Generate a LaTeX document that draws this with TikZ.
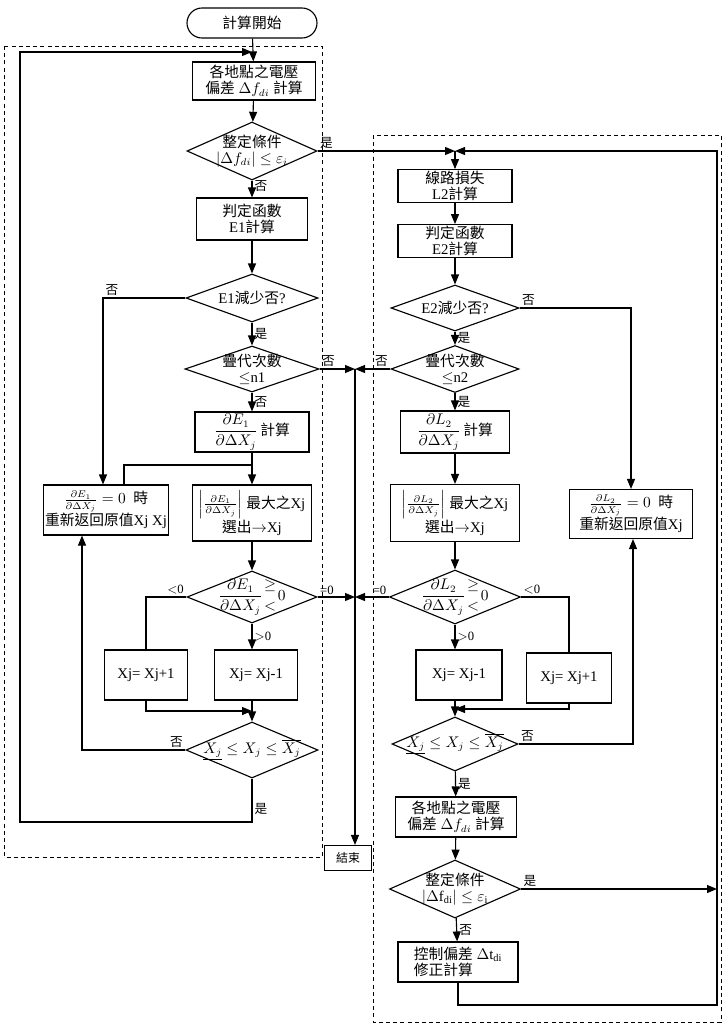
\documentclass[tikz,border=0pt]{standalone}
\usepackage{amsmath}
\usepackage{fontspec}
\setmainfont{Liberation Serif}
\newfontfamily\cjk{Noto Sans CJK TC}
\newcommand{\zh}[1]{{\cjk #1}}
\usetikzlibrary{positioning,shapes.geometric,arrows.meta}

\begin{document}
\begin{tikzpicture}[x=0.25mm,y=-0.25mm,
    font=\fontsize{10.5}{11.5}\selectfont,
    line width=0.8pt,
    >={Triangle[length=2.5mm,width=2mm]},
    proc/.style={draw,rectangle,align=center,inner sep=1pt},
    decide/.style={draw,diamond,inner sep=0pt},
    every label/.style={align=center,inner sep=0pt},
    yn/.style={font=\fontsize{9}{10}\selectfont,inner sep=1.5pt},
    frame/.style={draw,line width=0.6pt,dash pattern=on 1mm off 0.8mm}]
    \useasboundingbox (0,0) rectangle (724,1029);

    % frames
    \draw[frame] (4,46) rectangle (322,857);
    \draw[frame] (373,135) rectangle (721,1022);

    % left column
    \node[proc,rounded corners=3.75mm,minimum width=32.5mm,minimum height=7.5mm] (start) at (252,23) {\zh{計算開始}};
    \node[proc,minimum width=30.75mm,minimum height=9.5mm] (l1) at (254,81) {\zh{各地點之電壓}\\\zh{偏差} $\Delta f_{di}$ \zh{計算}};
    \node[decide,minimum width=32.5mm,minimum height=14.5mm,
        label={center:{\zh{整定條件}\\$|\Delta f_{di}|\le\varepsilon_i$}}] (lc1) at (252,151) {};
    \node[proc,minimum width=27.75mm,minimum height=10.5mm] (l2) at (252,219) {\zh{判定函數}\\E1\zh{計算}};
    \node[decide,minimum width=33mm,minimum height=12mm,label={center:{E1\zh{減少否}?}}] (lc2) at (252,298) {};
    \node[decide,minimum width=33.5mm,minimum height=11.5mm,label={center:{\zh{疊代次數}\\$\le$n1}}] (lc3) at (252,369) {};
    \node[proc,minimum width=28.5mm,minimum height=10mm] (l3) at (252,432) {$\displaystyle\frac{\partial E_1}{\partial\Delta X_j}$\,\zh{計算}};
    \node[proc,minimum width=29.75mm,minimum height=14mm] (l4) at (252,513) {$\left|\frac{\partial E_1}{\partial\Delta X_j}\right|$ \zh{最大之}Xj\\\zh{選出}$\rightarrow$Xj};
    \node[proc,minimum width=30.5mm,minimum height=12.5mm] (l5) at (106,510) {$\frac{\partial E_1}{\partial\Delta X_j}=0$ \ \zh{時}\\\zh{重新返回原值}Xj Xj};
    \node[decide,minimum width=32.5mm,minimum height=13mm,
        label={center:{$\displaystyle\frac{\partial E_1}{\partial\Delta X_j}\genfrac{}{}{0pt}{}{\ge}{<}0$}}] (lc4) at (252,597) {};
    \node[proc,minimum width=20.75mm,minimum height=12.5mm] (l6) at (146,675) {Xj= Xj+1};
    \node[proc,minimum width=20.75mm,minimum height=12.5mm] (l7) at (256,675) {Xj= Xj-1};
    \node[decide,minimum width=33mm,minimum height=14mm,
        label={center:{$\underline{X_j}\le X_j\le\overline{X_j}$}}] (lc5) at (252,750) {};
    \node[proc,font=\fontsize{8.5}{9}\selectfont,minimum width=11.75mm,minimum height=6.25mm] (end) at (348,858) {\zh{結束}};

    % right column
    \node[proc,minimum width=28.5mm,minimum height=7.75mm] (r1) at (455,186) {\zh{線路損失}\\L2\zh{計算}};
    \node[proc,minimum width=28.5mm,minimum height=7.75mm] (r2) at (455,241) {\zh{判定函數}\\E2\zh{計算}};
    \node[decide,minimum width=32mm,minimum height=11.5mm,label={center:{E2\zh{減少否}?}}] (rc1) at (455,308) {};
    \node[decide,minimum width=32mm,minimum height=11.75mm,label={center:{\zh{疊代次數}\\$\le$n2}}] (rc2) at (455,369) {};
    \node[proc,minimum width=27.25mm,minimum height=10.5mm] (r3) at (455,432) {$\displaystyle\frac{\partial L_2}{\partial\Delta X_j}$\,\zh{計算}};
    \node[proc,minimum width=32.25mm,minimum height=14.25mm] (r4) at (455,513) {$\left|\frac{\partial L_2}{\partial\Delta X_j}\right|$ \zh{最大之}Xj\\\zh{選出}$\rightarrow$Xj};
    \node[proc,minimum width=30.75mm,minimum height=12.25mm] (r5) at (631,514) {$\frac{\partial L_2}{\partial\Delta X_j}=0$ \ \zh{時}\\\zh{重新返回原值}Xj};
    \node[decide,minimum width=32.75mm,minimum height=13.5mm,
        label={center:{$\displaystyle\frac{\partial L_2}{\partial\Delta X_j}\genfrac{}{}{0pt}{}{\ge}{<}0$}}] (rc3) at (455,597) {};
    \node[proc,minimum width=21.5mm,minimum height=12.5mm] (r6) at (459,675) {Xj= Xj-1};
    \node[proc,minimum width=21.25mm,minimum height=12.5mm] (r7) at (569,678) {Xj= Xj+1};
    \node[decide,minimum width=31.5mm,minimum height=13.5mm,
        label={center:{$\underline{X_j}\le X_j\le\overline{X_j}$}}] (rc4) at (455,744) {};
    \node[proc,minimum width=30.25mm,minimum height=10mm] (r8) at (456,817) {\zh{各地點之電壓}\\\zh{偏差} $\Delta f_{di}$ \zh{計算}};
    \node[decide,minimum width=32.75mm,minimum height=14.5mm,
        label={center:{\zh{整定條件}\\$|\Delta\mathrm{f}_{\mathrm{di}}|\le\varepsilon_{\mathrm{i}}$}}] (rc5) at (455,889) {};
    \node[proc,align=left,minimum width=30mm,minimum height=10mm] (r9) at (458,962) {\zh{控制偏差} $\Delta\mathrm{t}_{\mathrm{di}}$\\\zh{修正計算}};

    % junctions
    \coordinate (jl) at (252,52);
    \coordinate (jr) at (455,151);
    \coordinate (jm) at (355,369);
    \coordinate (jz) at (355,597);
    \coordinate (lt) at (124,465);
    \coordinate (lw) at (103,298);
    \coordinate (lu) at (82,750);
    \coordinate (jb) at (252,711);
    \coordinate (lb) at (20,822);
    \coordinate (jb2) at (455,709);
    \coordinate (ru) at (633,744);
    \coordinate (rb) at (717,1005);

    % left flow
    \draw[->] (start) -- (l1);
    \draw[->] (l1) -- (lc1);
    \draw[->] (lc1) -- node[yn,right,pos=0.35] (n1) {\zh{否}} (l2);
    \draw[->] (lc1.east) -- node[yn,above right,pos=0] (y1) {\zh{是}} (jr);
    \draw[->] (l2) -- (lc2);
    \draw[->] (lc2) -- node[yn,right] (y2) {\zh{是}} (lc3);
    \draw[->] (lc2.west) -- node[yn,above right,pos=1] (n2) {\zh{否}} (lw) -- (lw |- l5.north);
    \draw[->] (lc3) -- node[yn,right] (n3) {\zh{否}} (l3);
    \draw[->] (lc3.east) -- node[yn,above right,pos=0] (n4) {\zh{否}} (jm);
    \draw[->] (jm) -- (jm |- end.north);
    \draw[->] (l3) -- (l4);
    \draw (lt |- l5.north) -- (lt) -- (lt -| l4);
    \draw[->] (l4) -- (lc4);
    \draw (lc4.west) -- node[yn,above left,pos=0] (m1) {$<$0} (lc4.west -| l6) -- (l6);
    \draw[->] (lc4) -- node[yn,right] (m2) {$>$0} (lc4 |- l7.north);
    \draw[->] (lc4.east) -- node[yn,above right,pos=0] (m3) {=0} (jz);
    \draw[->] (l6) -- (l6 |- jb) -- (jb);
    \draw[->] (l7.south -| lc5) -- (lc5);
    \draw[->] (lc5.west) -- node[yn,above left,pos=0] (n5) {\zh{否}} (lu) -- (lu |- l5.south);
    \draw[->] (lc5) -- node[yn,right,pos=0.7] (y5) {\zh{是}} (lc5 |- lb) -- (lb) -- (lb |- jl) -- (jl);

    % right flow
    \draw[->] (jr) -- (r1);
    \draw[->] (r1) -- (r2);
    \draw[->] (r2) -- (rc1);
    \draw[->] (rc1.east) -- node[yn,above right,pos=0] (n6) {\zh{否}} (rc1.east -| r5) -- (r5);
    \draw[->] (rc1) -- node[yn,right] (y6) {\zh{是}} (rc2);
    \draw[->] (rc2.west) -- node[yn,above left,pos=0] (n7) {\zh{否}} (jm);
    \draw[->] (rc2) -- node[yn,right] (y7) {\zh{是}} (r3);
    \draw[->] (r3) -- (r4);
    \draw[->] (r4) -- (rc3);
    \draw[->] (rc3.west) -- node[yn,above left,pos=0] (m4) {=0} (jz);
    \draw (rc3.east) -- node[yn,above right,pos=0] (m5) {$<$0} (rc3.east -| r7) -- (r7);
    \draw[->] (rc3) -- node[yn,right] (m6) {$>$0} (rc3 |- r6.north);
    \draw[->] (r6.south -| rc4) -- (rc4);
    \draw[->] (r7) -- (r7 |- jb2) -- (jb2);
    \draw[->] (rc4.east) -- node[yn,above right,pos=0] (n8) {\zh{否}} (ru) -- (ru |- r5.south);
    \draw[->] (rc4) -- node[yn,right] (y8) {\zh{是}} (r8);
    \draw[->] (r8) -- (rc5);
    \draw[->] (rc5.east) -- node[yn,above right,pos=0] (y9) {\zh{是}} (rc5.east -| rb);
    \draw[->] (rc5) -- node[yn,right] (n9) {\zh{否}} (r9);
    \draw[->] (r9) -- (r9 |- rb) -- (rb) -- (rb |- jr) -- (jr);
\end{tikzpicture}
\end{document}
